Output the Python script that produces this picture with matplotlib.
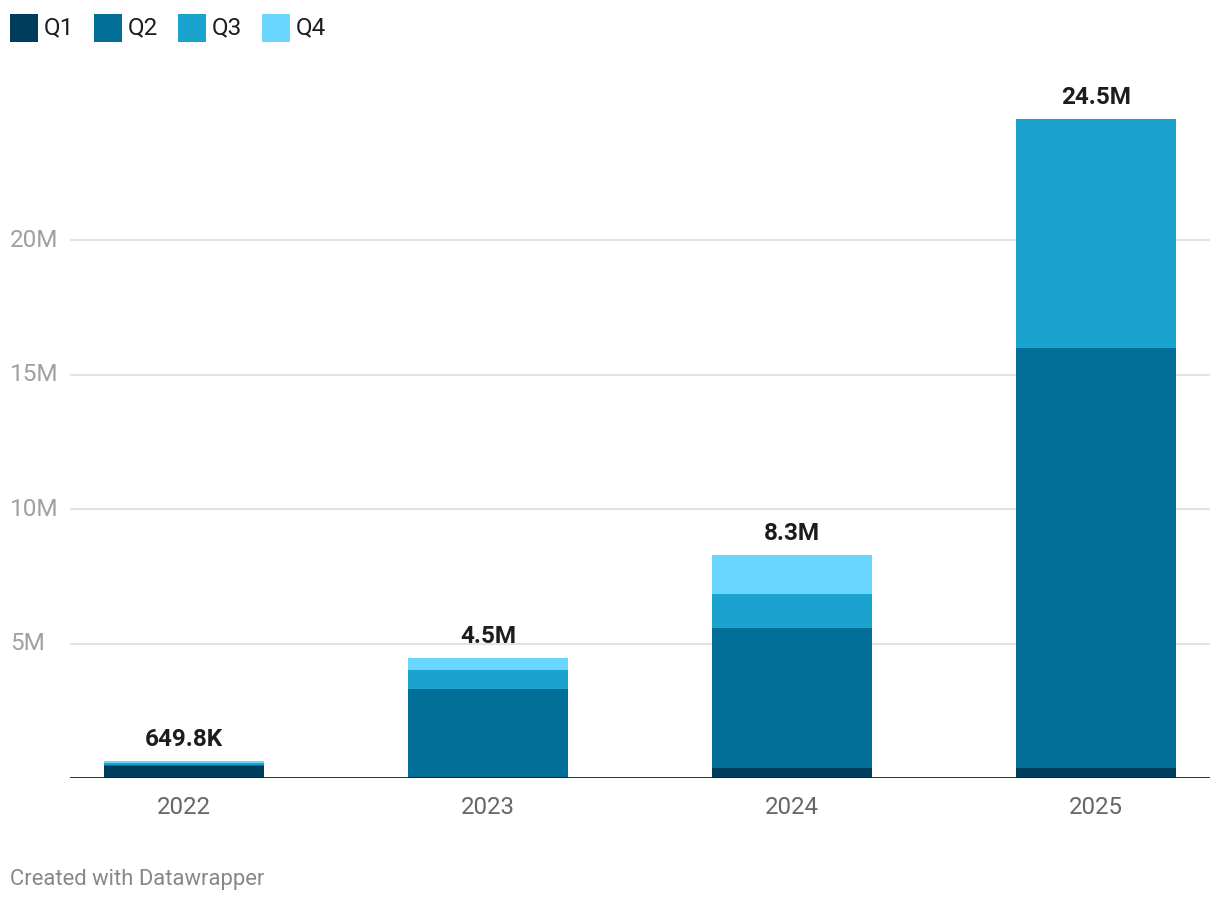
import matplotlib
matplotlib.use("Agg")
import matplotlib.pyplot as plt
from matplotlib.patches import Rectangle
import numpy as np

plt.rcParams['font.family'] = ['Roboto', 'DejaVu Sans']

years = ["2022", "2023", "2024", "2025"]
series_names = ["Q1", "Q2", "Q3", "Q4"]
q1 = [0.45, 0.0, 0.37, 0.37]
q2 = [0.04, 3.31, 5.20, 15.62]
q3 = [0.07, 0.71, 1.26, 8.51]
q4 = [0.0898, 0.45, 1.47, 0.0]
total_labels = ["649.8K", "4.5M", "8.3M", "24.5M"]
ytick_vals = [5, 10, 15, 20]
ytick_labels = ["5M", "10M", "15M", "20M"]
colors = ["#003d5c", "#006e96", "#1ba3cf", "#69d6ff"]

W, H = 1220, 902
fig = plt.figure(figsize=(W / 100, H / 100), dpi=100)
ax_l, ax_r, ax_b, ax_t = 70, 1210, 778, 70
ax = fig.add_axes([ax_l / W, 1 - ax_b / H, (ax_r - ax_l) / W, (ax_b - ax_t) / H])

px_per_m = (778 - 240) / 20.0
ax.set_ylim(0, (ax_b - ax_t) / px_per_m)
ax.set_xlim(-0.375, 3.375)

x = np.arange(len(years))
series = [q1, q2, q3, q4]
bottom = np.zeros(len(years))
for vals, c in zip(series, colors):
    ax.bar(x, vals, width=0.527, bottom=bottom, color=c, zorder=3, linewidth=0)
    bottom += np.array(vals)

for xi, tot, lab in zip(x, bottom, total_labels):
    ax.annotate(lab, (xi, tot), xytext=(0, 7), textcoords="offset points",
                ha="center", va="bottom", fontsize=17.5, fontweight="bold", color="#1d1d1d")

for v, lab in zip(ytick_vals, ytick_labels):
    ax.axhline(v, color="#e3e3e3", linewidth=1.5, zorder=1)
    ax.text(-60 / (ax_r - ax_l), v, lab,
            transform=ax.get_yaxis_transform(), ha="left", va="center",
            fontsize=17.5, color="#a0a0a0")
ax.axhline(0, color="#1d1d1d", linewidth=2, zorder=4)

for s in ax.spines.values():
    s.set_visible(False)
ax.set_yticks([])
ax.set_xticks(x)
ax.set_xticklabels(years, fontsize=17.3, color="#666666")
ax.tick_params(axis="x", length=0, pad=13)

# legend
lx = [10, 94, 178, 262]
for xx, name, c in zip(lx, series_names, colors):
    fig.add_artist(Rectangle((xx / W, 1 - 42 / H), 28 / W, 28 / H, transform=fig.transFigure,
                             color=c, linewidth=0))
    fig.text((xx + 34) / W, 1 - 28 / H, name, ha="left", va="center", fontsize=17.5, color="#1d1d1d")

fig.text(10 / W, 1 - 880 / H, "Created with Datawrapper", ha="left", va="center",
         fontsize=15.8, color="#888888")

fig.savefig("out.png", dpi=100)
